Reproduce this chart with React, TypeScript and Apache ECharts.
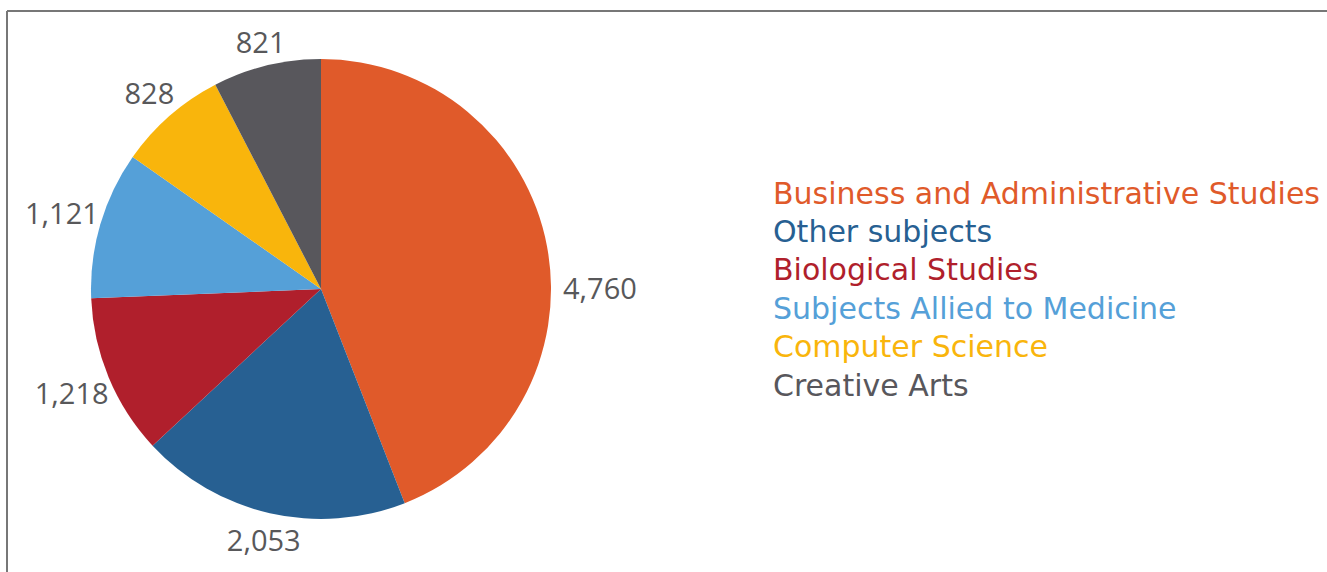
import React, { useEffect, useRef } from "react";
import * as echarts from "echarts";

const categories = [
  "Business and Administrative Studies",
  "Other subjects",
  "Biological Studies",
  "Subjects Allied to Medicine",
  "Computer Science",
  "Creative Arts",
];
const values = [4760, 2053, 1218, 1121, 828, 821];
const colors = ["#E05A2A", "#276092", "#B01F2C", "#55A0D8", "#F9B50C", "#58575C"];

const CENTER: [number, number] = [321, 289];
const RADIUS = 230;
const LABEL_GAP = 10;

export default function App() {
  const ref = useRef<HTMLDivElement>(null);
  useEffect(() => {
    if (!ref.current) return;
    const chart = echarts.init(ref.current, null, { renderer: "svg" });
    const total = values.reduce((a, b) => a + b, 0);
    const midAngles: number[] = [];
    let acc = 0;
    values.forEach((v) => {
      midAngles.push(((acc + v / 2) / total) * Math.PI * 2);
      acc += v;
    });
    chart.setOption({
      animation: false,
      backgroundColor: "#ffffff",
      color: colors,
      legend: {
        orient: "vertical",
        left: 763,
        top: 173,
        icon: "none",
        itemWidth: 0,
        itemHeight: 28,
        itemGap: 8.4,
        selectedMode: false,
        data: categories.map((name, i) => ({
          name,
          textStyle: { color: colors[i] },
        })),
        textStyle: {
          fontFamily: "DejaVu Sans",
          fontSize: 30,
        },
      },
      graphic: [
        {
          type: "line",
          shape: { x1: 7, y1: 11, x2: 1327, y2: 11 },
          style: { stroke: "#777777", lineWidth: 2 },
        },
        {
          type: "line",
          shape: { x1: 7, y1: 11, x2: 7, y2: 572 },
          style: { stroke: "#777777", lineWidth: 2 },
        },
      ],
      series: [
        {
          type: "pie",
          center: CENTER,
          radius: RADIUS,
          startAngle: 90,
          clockwise: true,
          data: categories.map((name, i) => ({ name, value: values[i] })),
          label: {
            show: true,
            position: "outside",
            formatter: (p: any) => p.value.toLocaleString("en-US"),
            color: "#58585A",
            fontFamily: "Open Sans",
            fontSize: 29,
            overflow: "none",
          },
          labelLine: { show: false, length: 17, length2: 0 },
          labelLayout: (p: any) => {
            const i = p.dataIndex;
            if (i === 0) {
              // the largest slice's label sits level with the pie centre, as in the source
              return {
                x: CENTER[0] + RADIUS + 12,
                y: CENTER[1] - 2,
                align: "left",
                verticalAlign: "middle",
              };
            }
            const theta = midAngles[i];
            const s = Math.sin(theta);
            const c = Math.cos(theta);
            const w = p.labelRect.width;
            const h = p.labelRect.height;
            const d = RADIUS + LABEL_GAP + Math.abs(s) * w * 0.38 + Math.abs(c) * h * 0.38;
            return {
              x: CENTER[0] + d * s,
              y: CENTER[1] - d * c,
              align: "center",
              verticalAlign: "middle",
            };
          },
          emphasis: { disabled: true },
        },
      ],
    });
    return () => chart.dispose();
  }, []);
  return (
    <div
      ref={ref}
      style={{ position: "fixed", left: 0, top: 0, width: 1327, height: 572 }}
    />
  );
}
